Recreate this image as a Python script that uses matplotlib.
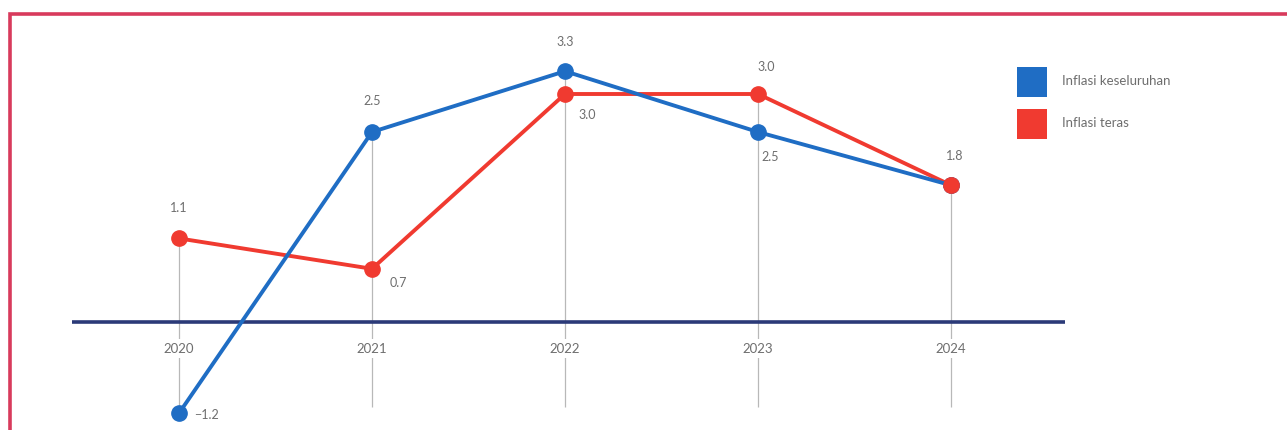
import matplotlib
matplotlib.use("Agg")
import matplotlib.pyplot as plt
from matplotlib.patches import Rectangle

years = [2020, 2021, 2022, 2023, 2024]
headline = [-1.2, 2.5, 3.3, 2.5, 1.8]
core = [1.1, 0.7, 3.0, 3.0, 1.8]
series_names = ["Inflasi keseluruhan", "Inflasi teras"]

BLUE = "#1f6dc4"
RED = "#f03a30"
NAVY = "#2b3a78"
GRID = "#b8b8b8"
TEXT = "#6e6e6e"
FRAME = "#d83a5c"

plt.rcParams["font.family"] = ["Lato", "DejaVu Sans"]

W, H = 1287, 430
fig = plt.figure(figsize=(W / 100, H / 100), dpi=100)
fig.patch.set_facecolor("white")
ax = fig.add_axes([0, 0, 1, 1])
ax.set_axis_off()

# data-to-pixel layout: one year = 193 px, one percentage point = 76 px
x0_px, dx_px = 179, 193
y0_px, dy_px = 322, 76
ax.set_xlim(years[0] - x0_px / dx_px, years[0] + (W - x0_px) / dx_px)
ax.set_ylim(-(H - y0_px) / dy_px, y0_px / dy_px)
ymin = ax.get_ylim()[0]

# vertical guides from the higher point of each year down to the bottom
for yr, a, b in zip(years, headline, core):
    ax.vlines(yr, ymin + 0.3, max(a, b), color=GRID, lw=0.9, zorder=1)

# zero line
ax.hlines(0, years[0] - 107 / dx_px, years[-1] + 114 / dx_px,
          color=NAVY, lw=2.6, zorder=2)

# year labels below zero line
for yr in years:
    ax.text(yr, -0.35, str(yr), ha="center", va="center", fontsize=9.5,
            color=TEXT, zorder=3,
            bbox=dict(boxstyle="square,pad=0.25", fc="white", ec="none"))

ax.plot(years, core, color=RED, lw=2.8, marker="o", ms=11,
        solid_joinstyle="round", zorder=4)
ax.plot(years, headline, color=BLUE, lw=2.8, marker="o", ms=11,
        solid_joinstyle="round", zorder=5)
# 2024 point of core inflation sits on top
ax.plot(years[-1:], core[-1:], color=RED, marker="o", ms=11, lw=0, zorder=6)

# value labels: (series, index, dx px, dy px, ha)
def label(x, y, txt, dxp, dyp, ha="center"):
    ax.annotate(txt, (x, y), xytext=(dxp, dyp), textcoords="offset pixels",
                ha=ha, va="center", fontsize=9, color=TEXT, zorder=7)

def fmt(v):
    return f"{v:.1f}".replace("-", "\u2212")

label(years[0], headline[0], fmt(headline[0]), 15, -2, "left")
label(years[1], headline[1], fmt(headline[1]), 0, 31)
label(years[2], headline[2], fmt(headline[2]), 0, 29)
label(years[3], headline[3], fmt(headline[3]), 3, -25, "left")
label(years[4], headline[4], fmt(headline[4]), 4, 29)

label(years[0], core[0], fmt(core[0]), 0, 30)
label(years[1], core[1], fmt(core[1]), 18, -14, "left")
label(years[2], core[2], fmt(core[2]), 13, -21, "left")
label(years[3], core[3], fmt(core[3]), 8, 27)

# legend squares and names (figure pixels)
def px(x, y):
    return x / W, 1 - y / H

for (ytop, col, name) in [(67, BLUE, series_names[0]), (109, RED, series_names[1])]:
    fx, fy = px(1017, ytop + 30)
    fig.patches.append(Rectangle((fx, fy), 30 / W, 30 / H, transform=fig.transFigure,
                                 facecolor=col, edgecolor="none"))
    tx, ty = px(1062, ytop + 14)
    fig.text(tx, ty, name, ha="left", va="center", fontsize=9.5, color=TEXT)

# outer frame
fx, fy = px(10, 460)
fig.patches.append(Rectangle((fx, fy), (W + 20 - 10) / W, (460 - 14) / H,
                             transform=fig.transFigure, facecolor="none",
                             edgecolor=FRAME, lw=2.6, zorder=10))

fig.savefig("out.png", dpi=100, facecolor="white")
